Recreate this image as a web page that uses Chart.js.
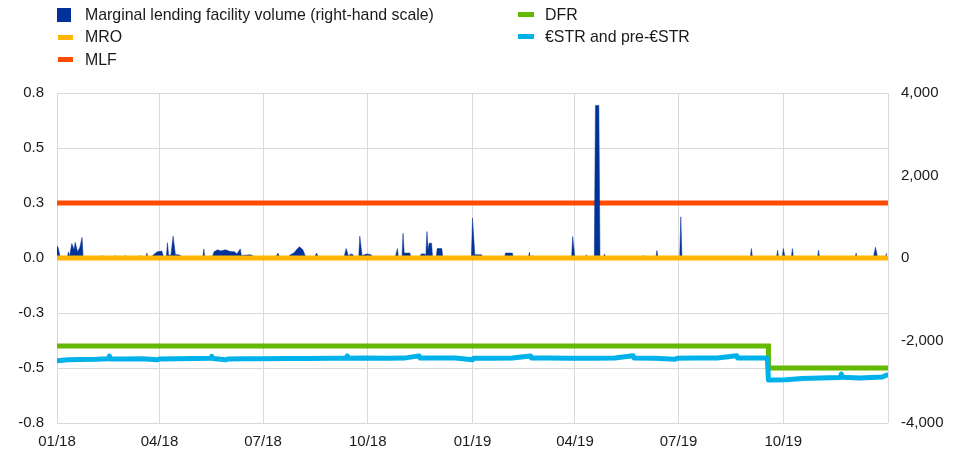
<!DOCTYPE html>
<html>
<head>
<meta charset="utf-8">
<script src="https://cdn.jsdelivr.net/npm/chart.js@4"></script>
<style>
  body { margin: 0; background: #fff; font-family: "Liberation Sans", Arial, sans-serif; }
  #wrap { position: relative; width: 957px; height: 456px; }
  .leg { position: absolute; font-size: 15.9px; color: #1a1a1a; line-height: 18px; white-space: nowrap; }
  .sw { position: absolute; }
</style>
</head>
<body>
<div id="wrap">
  <canvas id="chart" width="957" height="456"></canvas>
  <div class="sw" style="left:57px;top:8px;width:14px;height:14px;background:#003299"></div>
  <div class="leg" style="left:85px;top:6px">Marginal lending facility volume (right-hand scale)</div>
  <div class="sw" style="left:58px;top:35px;width:15px;height:5px;background:#ffb400"></div>
  <div class="leg" style="left:85px;top:28px">MRO</div>
  <div class="sw" style="left:58px;top:57px;width:15px;height:5px;background:#ff4b00"></div>
  <div class="leg" style="left:85px;top:51px">MLF</div>
  <div class="sw" style="left:518px;top:12px;width:16px;height:5px;background:#65b800"></div>
  <div class="leg" style="left:545px;top:6px">DFR</div>
  <div class="sw" style="left:518px;top:34px;width:16px;height:5px;background:#00b1ea"></div>
  <div class="leg" style="left:545px;top:28px">€STR and pre-€STR</div>
</div>
<script>
// x axis: quarter ticks
const tickDates = ['2018-01-01', '2018-04-01', '2018-07-01', '2018-10-01', '2019-01-01',
                   '2019-04-01', '2019-07-01', '2019-10-01', '2020-01-01'];
const tickLabels = ['01/18', '04/18', '07/18', '10/18', '01/19', '04/19', '07/19', '10/19', ''];

// policy rates (% p.a.), changes only
const rateDates = ['2018-01-01', '2019-09-18', '2019-12-31'];
const mro = [0.00, 0.00, 0.00];
const mlf = [0.25, 0.25, 0.25];
const dfr = [-0.40, -0.50, -0.50];

// €STR and pre-€STR (% p.a.)
const estrDates = ['2018-01-01', '2018-01-11', '2018-01-21', '2018-02-05', '2018-02-15', '2018-02-16',
  '2018-02-17', '2018-03-02', '2018-03-17', '2018-03-30', '2018-04-01', '2018-04-16', '2018-05-01',
  '2018-05-16', '2018-05-17', '2018-05-18', '2018-05-29', '2018-05-31', '2018-06-15', '2018-06-30',
  '2018-07-20', '2018-08-09', '2018-08-29', '2018-09-12', '2018-09-13', '2018-09-14', '2018-09-28',
  '2018-10-18', '2018-11-02', '2018-11-15', '2018-11-16', '2018-12-02', '2018-12-17', '2019-01-01',
  '2019-01-02', '2019-01-16', '2019-02-05', '2019-02-21', '2019-02-22', '2019-03-07', '2019-03-27',
  '2019-04-16', '2019-05-06', '2019-05-22', '2019-05-23', '2019-06-10', '2019-06-28', '2019-06-30',
  '2019-07-15', '2019-08-04', '2019-08-21', '2019-08-22', '2019-09-03', '2019-09-17', '2019-09-18',
  '2019-10-03', '2019-10-18', '2019-11-02', '2019-11-20', '2019-11-21', '2019-11-22', '2019-12-07',
  '2019-12-17', '2019-12-27', '2019-12-31'];
const estr = [-0.467, -0.462, -0.461, -0.460, -0.458, -0.446,
  -0.459, -0.459, -0.458, -0.463, -0.459, -0.458, -0.457,
  -0.456, -0.447, -0.457, -0.463, -0.459, -0.458, -0.458,
  -0.457, -0.457, -0.456, -0.456, -0.445, -0.456, -0.455,
  -0.456, -0.455, -0.445, -0.455, -0.455, -0.455, -0.463,
  -0.456, -0.456, -0.455, -0.445, -0.455, -0.455, -0.456,
  -0.456, -0.455, -0.444, -0.455, -0.456, -0.460, -0.456,
  -0.455, -0.455, -0.444, -0.455, -0.455, -0.455, -0.555,
  -0.553, -0.548, -0.546, -0.543, -0.528, -0.542, -0.546,
  -0.543, -0.541, -0.532];

// marginal lending facility recourse (EUR millions)
const mlfVolDates = ['2018-01-01', '2018-01-02', '2018-01-04', '2018-01-10', '2018-01-11', '2018-01-12',
  '2018-01-14', '2018-01-16', '2018-01-17', '2018-01-19', '2018-01-21', '2018-01-23', '2018-01-24',
  '2018-02-09', '2018-02-10', '2018-02-11', '2018-02-20', '2018-02-21', '2018-02-22', '2018-03-01',
  '2018-03-02', '2018-03-03', '2018-03-14', '2018-03-15', '2018-03-16', '2018-03-20', '2018-03-21',
  '2018-03-22', '2018-03-24', '2018-03-26', '2018-03-30', '2018-04-03', '2018-04-05', '2018-04-07',
  '2018-04-08', '2018-04-09', '2018-04-11', '2018-04-13', '2018-04-15', '2018-04-18', '2018-04-23',
  '2018-05-09', '2018-05-10', '2018-05-11', '2018-05-17', '2018-05-19', '2018-05-22', '2018-05-25',
  '2018-05-29', '2018-06-02', '2018-06-06', '2018-06-08', '2018-06-11', '2018-06-12', '2018-06-20',
  '2018-06-26', '2018-07-12', '2018-07-14', '2018-07-16', '2018-07-22', '2018-07-25', '2018-07-28',
  '2018-07-31', '2018-08-02', '2018-08-05', '2018-08-07', '2018-08-09', '2018-08-15', '2018-08-17',
  '2018-08-19', '2018-08-26', '2018-08-27', '2018-08-28', '2018-09-10', '2018-09-12', '2018-09-14',
  '2018-09-16', '2018-09-18', '2018-09-19', '2018-09-23', '2018-09-24', '2018-09-26', '2018-09-30',
  '2018-10-04', '2018-10-06', '2018-10-25', '2018-10-27', '2018-10-28', '2018-10-31', '2018-11-01',
  '2018-11-02', '2018-11-07', '2018-11-08', '2018-11-15', '2018-11-17', '2018-11-20', '2018-11-21',
  '2018-11-22', '2018-11-23', '2018-11-24', '2018-11-26', '2018-11-27', '2018-11-30', '2018-12-01',
  '2018-12-05', '2018-12-06', '2018-12-18', '2018-12-19', '2018-12-20', '2018-12-31', '2019-01-01',
  '2019-01-03', '2019-01-09', '2019-01-10', '2019-01-18', '2019-01-19', '2019-01-20', '2019-01-29',
  '2019-01-30', '2019-02-05', '2019-02-06', '2019-02-19', '2019-02-20', '2019-02-21', '2019-02-23',
  '2019-02-24', '2019-03-08', '2019-03-09', '2019-03-10', '2019-03-29', '2019-03-30', '2019-04-01',
  '2019-04-10', '2019-04-11', '2019-04-12', '2019-04-18', '2019-04-19', '2019-04-22', '2019-04-23',
  '2019-04-26', '2019-04-27', '2019-04-28', '2019-05-14', '2019-05-15', '2019-05-16', '2019-05-30',
  '2019-05-31', '2019-06-01', '2019-06-06', '2019-06-07', '2019-06-08', '2019-06-11', '2019-06-12',
  '2019-06-13', '2019-07-02', '2019-07-03', '2019-07-04', '2019-09-02', '2019-09-03', '2019-09-04',
  '2019-09-25', '2019-09-26', '2019-09-27', '2019-09-30', '2019-10-01', '2019-10-02', '2019-10-03',
  '2019-10-08', '2019-10-09', '2019-10-10', '2019-10-23', '2019-10-24', '2019-10-25', '2019-10-27',
  '2019-10-28', '2019-10-29', '2019-10-31', '2019-11-01', '2019-11-02', '2019-12-03', '2019-12-04',
  '2019-12-05', '2019-12-19', '2019-12-21', '2019-12-23', '2019-12-29', '2019-12-31'];
const mlfVol = [300, 250, 0, 0, 150, 40,
  350, 200, 380, 150, 250, 500, 0,
  0, 60, 0, 0, 60, 0, 0,
  60, 0, 0, 60, 0, 0, 120,
  0, 0, 60, 150, 170, 0, 0,
  370, 80, 60, 530, 80, 80, 0,
  0, 220, 0, 0, 150, 200, 170,
  200, 160, 150, 100, 220, 60, 80,
  0, 0, 120, 0, 0, 80, 120,
  220, 270, 200, 60, 0, 0, 120,
  0, 0, 40, 0, 0, 230, 50,
  100, 80, 0, 0, 530, 60, 100,
  80, 0, 0, 230, 0, 0, 600,
  120, 120, 0, 0, 100, 100, 60,
  640, 200, 360, 360, 0, 0, 230,
  230, 0, 0, 40, 0, 0, 970,
  80, 80, 0, 0, 40, 0, 0,
  120, 120, 0, 0, 140, 0, 60,
  0, 0, 40, 0, 0, 520, 0,
  0, 80, 0, 0, 3700, 3700, 0,
  0, 100, 0, 0, 40, 0, 0,
  60, 0, 0, 40, 0, 0, 180,
  0, 0, 1000, 0, 0, 230, 0,
  0, 190, 0, 0, 230, 100, 0,
  0, 230, 0, 0, 40, 0, 0,
  40, 0, 0, 190, 0, 0, 120,
  0, 0, 260, 0, 0, 120];

const START = Date.UTC(2018, 0, 1);
function dayIndex(s) {
    const p = s.split('-').map(Number);
    return (Date.UTC(p[0], p[1] - 1, p[2]) - START) / 86400000;
}
function toPoints(dates, values) {
    return dates.map((d, i) => ({ x: dayIndex(d), y: values[i] }));
}

const tickPos = tickDates.map(dayIndex);
const font = { family: '"Liberation Sans", Arial, sans-serif', size: 15 };
const gridColor = '#d9d9d9';

const ctx = document.getElementById('chart').getContext('2d');
new Chart(ctx, {
    type: 'line',
    data: {
        datasets: [
            {
                label: '€STR and pre-€STR',
                data: toPoints(estrDates, estr),
                borderColor: '#00b1ea',
                borderWidth: 5,
                borderJoinStyle: 'round',
                borderCapStyle: 'round',
                pointRadius: 0,
                yAxisID: 'y',
                order: 0
            },
            {
                label: 'MRO',
                data: toPoints(rateDates, mro),
                borderColor: '#ffb400',
                borderWidth: 5,
                borderCapStyle: 'round',
                pointRadius: 0,
                yAxisID: 'y',
                order: 1
            },
            {
                label: 'DFR',
                data: toPoints(rateDates, dfr),
                borderColor: '#65b800',
                borderWidth: 5,
                borderCapStyle: 'round',
                stepped: true,
                pointRadius: 0,
                yAxisID: 'y',
                order: 2
            },
            {
                label: 'Marginal lending facility volume (right-hand scale)',
                data: toPoints(mlfVolDates, mlfVol),
                borderColor: '#003299',
                backgroundColor: '#003299',
                borderWidth: 0.5,
                fill: 'origin',
                pointRadius: 0,
                yAxisID: 'y2',
                order: 3
            },
            {
                label: 'MLF',
                data: toPoints(rateDates, mlf),
                borderColor: '#ff4b00',
                borderWidth: 5,
                borderCapStyle: 'round',
                pointRadius: 0,
                yAxisID: 'y',
                order: 4
            }
        ]
    },
    options: {
        responsive: false,
        animation: false,
        layout: { padding: { top: 93, right: 0, bottom: 0, left: 0 } },
        plugins: {
            legend: { display: false },
            tooltip: { enabled: false }
        },
        scales: {
            x: {
                type: 'linear',
                min: 0,
                max: tickPos[tickPos.length - 1],
                afterBuildTicks: axis => {
                    axis.ticks = tickPos.map(v => ({ value: v }));
                },
                afterFit: axis => { axis.height = 33; },
                ticks: {
                    autoSkip: false,
                    maxRotation: 0,
                    padding: 10,
                    color: '#1a1a1a',
                    font: font,
                    callback: (value, index) => tickLabels[index]
                },
                grid: { color: gridColor, drawTicks: false },
                border: { display: false }
            },
            y: {
                position: 'left',
                min: -0.75,
                max: 0.75,
                afterFit: axis => { axis.width = 57; },
                ticks: {
                    stepSize: 0.25,
                    padding: 13,
                    color: '#1a1a1a',
                    font: font,
                    callback: value => value.toFixed(1)
                },
                grid: { color: gridColor, drawTicks: false },
                border: { display: false }
            },
            y2: {
                position: 'right',
                min: -4000,
                max: 4000,
                afterFit: axis => { axis.width = 69; },
                ticks: {
                    stepSize: 2000,
                    padding: 13,
                    color: '#1a1a1a',
                    font: font,
                    callback: value => value.toLocaleString('en-US')
                },
                grid: { display: false, drawTicks: false },
                border: { display: false }
            }
        }
    }
});
</script>
</body>
</html>
